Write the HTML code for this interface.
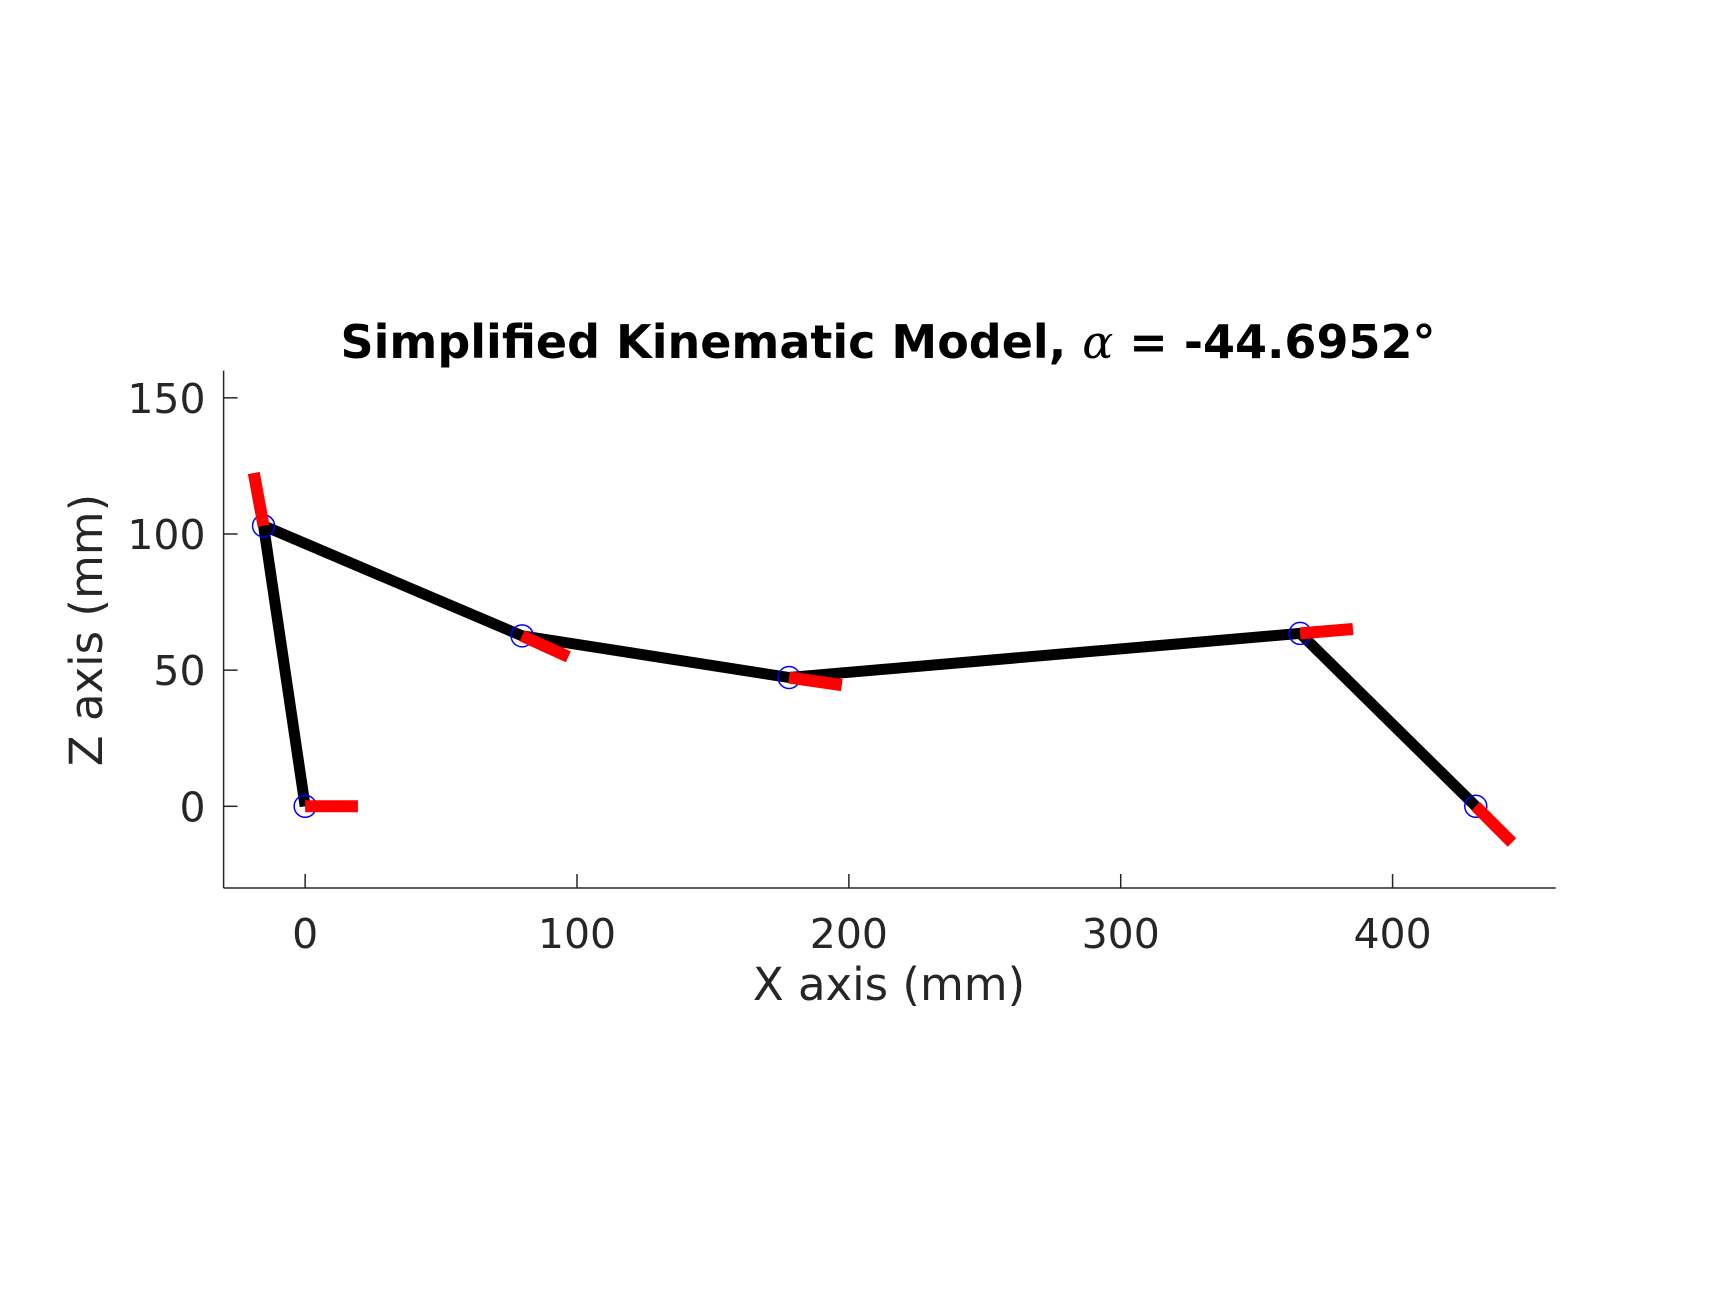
<!DOCTYPE html>
<html><head><meta charset="utf-8"><style>
html,body{margin:0;padding:0;background:#fff;}
svg{display:block;font-family:"DejaVu Sans","Liberation Sans",sans-serif;}
</style></head><body>
<svg id="chart" width="1719" height="1306" viewBox="0 0 1719 1306">
<rect width="1719" height="1306" fill="#fff"/>
<text x="888" y="358" text-anchor="middle" font-size="46" font-weight="bold" fill="#000">Simplified Kinematic Model, <tspan font-family="'DejaVu Serif','Liberation Serif',serif" font-style="italic" font-weight="normal">α</tspan> = -44.6952°</text>
<g id="axes"></g>
<g id="marks"></g>
<text x="889" y="1000" text-anchor="middle" font-size="45" fill="#262626">X axis (mm)</text>
<text transform="translate(102,630) rotate(-90)" text-anchor="middle" font-size="45" fill="#262626">Z axis (mm)</text>
</svg>
<script>
const xTicks=[0,100,200,300,400];
const yTicks=[0,50,100,150];
const jointX=[0,-15.3,79.8,178,366,430.6];
const jointZ=[0,103,62.6,47.3,63.5,0];
const frameDX=[19.4,-3.6,17,19.4,19.4,13.3];
const frameDZ=[0,19.4,-7.7,-2.8,1.6,-13.3];
const xMin=-30,xMax=460,yMin=-30,yMax=160;
const L=223.6,R=1555.7,T=370.6,B=888;
function sx(v){return L+(v-xMin)/(xMax-xMin)*(R-L);}
function sy(v){return B-(v-yMin)/(yMax-yMin)*(B-T);}
const NS='http://www.w3.org/2000/svg';
function mk(tag,attrs,parent){const e=document.createElementNS(NS,tag);for(const k in attrs)e.setAttribute(k,attrs[k]);parent.appendChild(e);return e;}
const axes=document.getElementById('axes'),marks=document.getElementById('marks');
let e=mk('line',{x1:L,y1:T,x2:L,y2:B,stroke:'#262626','stroke-width':1.5},axes);


e=mk('line',{x1:L,y1:B,x2:R,y2:B,stroke:'#262626','stroke-width':1.5},axes);


xTicks.forEach(v=>{
 const t=mk('line',{x1:sx(v),y1:B,x2:sx(v),y2:B-14,stroke:'#262626','stroke-width':1.5},axes);
 
 
 const l=mk('text',{x:sx(v),y:B+60,'text-anchor':'middle','font-size':41,fill:'#262626'},axes);
 l.textContent=v;
 
 
});
yTicks.forEach(v=>{
 const t=mk('line',{x1:L,y1:sy(v),x2:L+14,y2:sy(v),stroke:'#262626','stroke-width':1.5},axes);
 
 
 const l=mk('text',{x:L-18,y:sy(v)+15,'text-anchor':'end','font-size':41,fill:'#262626'},axes);
 l.textContent=v;
 
 
});
const pts=jointX.map((x,i)=>sx(x)+','+sy(jointZ[i])).join(' ');
e=mk('polyline',{points:pts,fill:'none',stroke:'#000','stroke-width':11},marks);


jointX.forEach((x,i)=>{
 const c=mk('circle',{cx:sx(x),cy:sy(jointZ[i]),r:11,fill:'none',stroke:'#0000ff','stroke-width':1.5},marks);
 
 
});
jointX.forEach((x,i)=>{
 const f=mk('line',{x1:sx(x),y1:sy(jointZ[i]),x2:sx(x+frameDX[i]),y2:sy(jointZ[i]+frameDZ[i]),stroke:'#ff0000','stroke-width':12},marks);
 
 
});
</script>
</body></html>
